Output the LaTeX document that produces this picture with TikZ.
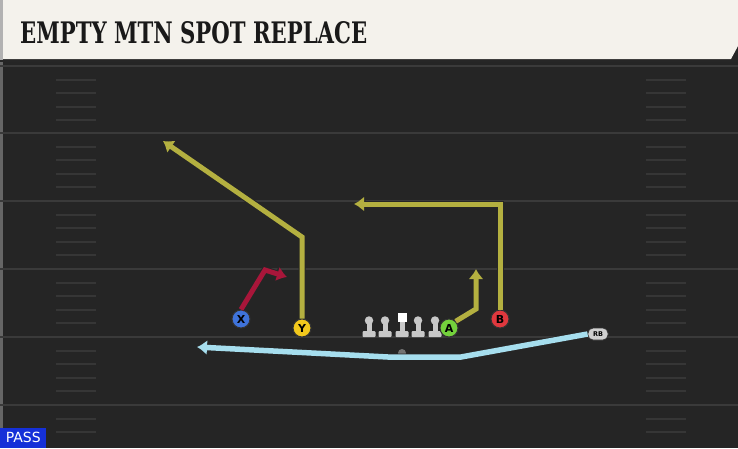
\documentclass[tikz,border=0pt]{standalone}
\usepackage{fontspec}
\usepackage{graphicx}
\usetikzlibrary{arrows.meta}
\newfontfamily\titlefont{DejaVu Serif}[FakeStretch=0.78]
\newfontfamily\labelfont{DejaVu Sans}
\definecolor{field}{HTML}{252525}
\definecolor{yardline}{HTML}{3A3A3A}
\definecolor{hashline}{HTML}{363636}
\definecolor{header}{HTML}{F4F2EC}
\definecolor{olive}{HTML}{B4B040}
\definecolor{slant}{HTML}{A8163A}
\definecolor{wheel}{HTML}{A6DEEE}
\definecolor{olgrey}{HTML}{C8C8C8}
\definecolor{xblue}{HTML}{3F73DA}
\definecolor{yyellow}{HTML}{F2C81C}
\definecolor{agreen}{HTML}{74D23C}
\definecolor{bred}{HTML}{E0383E}
\definecolor{passblue}{HTML}{1530D8}
\begin{document}
\begin{tikzpicture}[x=1pt,y=-1pt,
  route/.style={line width=5pt,-{Latex[length=10pt,width=15pt]},line join=miter,
    preaction={draw,line width=7pt,black!85,-{Latex[length=11.5pt,width=17.5pt]}}},
  player/.style={circle,draw=black!80,line width=1pt,minimum size=18pt,inner sep=0pt,
    font=\labelfont\bfseries\fontsize{11}{11}\selectfont},
  olhead/.style={circle,fill=olgrey,minimum size=8.5pt,inner sep=0pt}]
  \useasboundingbox (0,0) rectangle (738,448);
  \fill[field] (0,0) rectangle (738,448);
  \fill[black!60] (0,0) rectangle (3,448);

  % yard lines and hash marks
  \foreach \y in {66,133,201,269,337,405}
    \draw[yardline,line width=2.5pt] (0,\y) -- (738,\y);
  \foreach \y in {66,133,201,269,337} {
    \foreach \k in {1,...,4} {
      \draw[hashline,line width=2pt] (56,\y+\k*13.6) -- (96,\y+\k*13.6);
      \draw[hashline,line width=2pt] (646,\y+\k*13.6) -- (686,\y+\k*13.6);
    }
  }
  \foreach \k in {1,...,2} {
    \draw[hashline,line width=2pt] (56,405+\k*13.6) -- (96,405+\k*13.6);
    \draw[hashline,line width=2pt] (646,405+\k*13.6) -- (686,405+\k*13.6);
  }

  % title bar
  \fill[black!85] (0,0) rectangle (738,62);
  \fill[black!30] (0,0) rectangle (3,60);
  \fill[header] (3,0) -- (738,0) -- (738,46) -- (731,59) -- (3,59) -- cycle;
  \node[anchor=south west,inner sep=0pt,text=black!90] (title) at (20,44)
    {\resizebox{347pt}{22pt}{\titlefont\bfseries EMPTY MTN SPOT REPLACE}};

  % offensive line and quarterback
  \foreach \x/\n in {369/lt,385/lg,418/rg,435/rt} {
    \fill[olgrey] (\x-2.5,321) rectangle (\x+2.5,332);
    \fill[olgrey,rounded corners=1pt] (\x-6.5,331) rectangle (\x+6.5,337);
    \node[olhead] (\n) at (\x,320.5) {};
  }
  \fill[olgrey] (399.5,321) rectangle (404.5,332);
  \fill[olgrey,rounded corners=1pt] (395.5,331) rectangle (408.5,337);
  \node[fill=white,minimum size=9pt,inner sep=0pt] (c) at (402,317.5) {};
  \node[circle,fill=black!55,minimum size=8pt,inner sep=0pt] (qb) at (402,353) {};

  % players
  \node[player,fill=xblue] (x) at (241,319) {X};
  \node[player,fill=yyellow] (y) at (302,328) {Y};
  \node[player,fill=agreen] (a) at (449,328) {A};
  \node[player,fill=bred] (b) at (500,319) {B};
  \node[draw=black!80,fill=olgrey!85,line width=0.8pt,rounded corners=5pt,
    minimum width=20pt,minimum height=12pt,inner sep=0pt,
    font=\labelfont\bfseries\fontsize{6.5}{6.5}\selectfont] (rb) at (598,334) {RB};

  % routes
  \coordinate (xbreak) at (265,270);
  \coordinate (xend) at (287,277);
  \coordinate (ybreak) at (302,237);
  \coordinate (yend) at (163,141);
  \coordinate (bbreak) at (500,204);
  \coordinate (bend) at (354,204);
  \coordinate (abreak) at (476,309);
  \coordinate (aend) at (476,269);
  \coordinate (rbbreak) at (461,357);
  \coordinate (rbflat) at (388,357);
  \coordinate (rbend) at (197,347);
  \draw[route,slant] (x.north) -- (xbreak) -- (xend);
  \draw[route,olive] (y.north) -- (ybreak) -- (yend);
  \draw[route,olive] (b.north) -- (bbreak) -- (bend);
  \draw[route,olive] (a.north east) -- (abreak) -- (aend);
  \draw[route,wheel,line width=5.5pt] (rb.west) -- (rbbreak) -- (rbflat) -- (rbend);

  % play type tag
  \node[fill=passblue,text=white,anchor=south west,minimum width=46pt,minimum height=20pt,
    inner sep=0pt,font=\labelfont\fontsize{14}{14}\selectfont] (pass) at (0,448) {PASS};
\end{tikzpicture}
\end{document}
